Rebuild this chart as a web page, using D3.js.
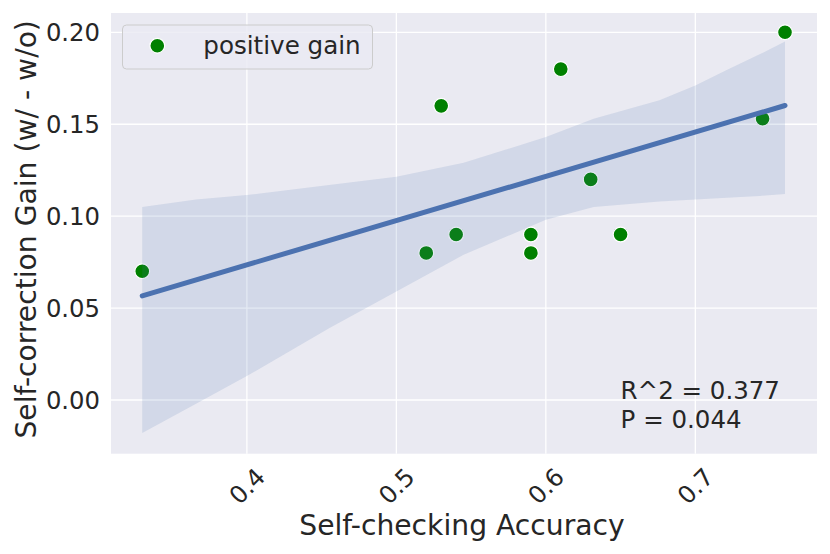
<!DOCTYPE html>
<html>
<head>
<meta charset="utf-8">
<script src="https://cdn.jsdelivr.net/npm/d3@7/dist/d3.min.js"></script>
<style>
  html, body { margin: 0; padding: 0; background: #ffffff; }
  text { font-family: "DejaVu Sans", sans-serif; fill: #262626; }
</style>
</head>
<body>
<svg id="chart" width="830" height="554"></svg>
<script>
// ---- data ----
const accuracy = [0.33, 0.52, 0.53, 0.54, 0.59, 0.59, 0.61, 0.63, 0.65, 0.745, 0.76];
const gain     = [0.07, 0.08, 0.16, 0.09, 0.09, 0.08, 0.18, 0.12, 0.09, 0.153, 0.20];
// bootstrap confidence band edges
const bandX     = [0.33, 0.366, 0.40, 0.455, 0.50, 0.545, 0.60, 0.632, 0.676, 0.70, 0.721, 0.743, 0.76];
const bandUpper = [0.105, 0.109, 0.1115, 0.117, 0.1215, 0.129, 0.143, 0.153, 0.163, 0.171, 0.1795, 0.188, 0.195];
const bandLower = [-0.018, -0.002, 0.013, 0.039, 0.059, 0.079, 0.098, 0.105, 0.108, 0.109, 0.110, 0.111, 0.112];
const xTicks = [0.4, 0.5, 0.6, 0.7];
const yTicks = [0.00, 0.05, 0.10, 0.15, 0.20];
const legendLabel = "positive gain";
const annotLines = ["R^2 = 0.377", "P = 0.044"];

// ---- layout ----
const svg = d3.select("#chart");
const L = 111, R = 817, T = 13, B = 453.7;
const x = d3.scaleLinear().domain([0.3091, 0.7814]).range([L, R]);
const y = d3.scaleLinear().domain([-0.0292, 0.2105]).range([B, T]);

// background
svg.append("rect").attr("x", L).attr("y", T).attr("width", R - L).attr("height", B - T).attr("fill", "#eaeaf2");

// grid
const g = svg.append("g");
g.selectAll(".gx").data(xTicks).join("line")
  .attr("x1", d => x(d)).attr("x2", d => x(d)).attr("y1", T).attr("y2", B)
  .attr("stroke", "#ffffff").attr("stroke-width", 1.3);
g.selectAll(".gy").data(yTicks).join("line")
  .attr("y1", d => y(d)).attr("y2", d => y(d)).attr("x1", L).attr("x2", R)
  .attr("stroke", "#ffffff").attr("stroke-width", 1.3);

// tick labels
svg.selectAll(".yt").data(yTicks).join("text")
  .attr("x", 100).attr("y", d => y(d)).attr("dy", "0.36em")
  .attr("text-anchor", "end").attr("font-size", 24.3)
  .text(d => d3.format(".2f")(d));
svg.selectAll(".xt").data(xTicks).join("text")
  .attr("transform", d => `translate(${x(d)},486) rotate(-45)`)
  .attr("dy", "0.36em").attr("text-anchor", "middle").attr("font-size", 24.3)
  .text(d => d3.format(".1f")(d));

// axis labels
svg.append("text").attr("x", (L + R) / 2 - 2).attr("y", 535)
  .attr("text-anchor", "middle").attr("font-size", 28.2).text("Self-checking Accuracy");
svg.append("text").attr("transform", `translate(36,${(T + B) / 2 - 4}) rotate(-90)`)
  .attr("text-anchor", "middle").attr("font-size", 28.2).text("Self-correction Gain (w/ - w/o)");

// points (drawn below regression)
const pts = accuracy.map((a, i) => ({ a, v: gain[i] }));
svg.selectAll(".pt").data(pts).join("circle")
  .attr("cx", d => x(d.a)).attr("cy", d => y(d.v)).attr("r", 7.4)
  .attr("fill", "#008000").attr("stroke", "#ffffff").attr("stroke-width", 1.2);

// confidence band
const band = bandX.map((bx, i) => ({ bx, lo: bandLower[i], hi: bandUpper[i] }));
svg.append("path").datum(band)
  .attr("d", d3.area().x(d => x(d.bx)).y0(d => y(d.lo)).y1(d => y(d.hi)))
  .attr("fill", "#4c72b0").attr("fill-opacity", 0.15);

// least-squares fit line computed from the data
const n = accuracy.length;
const mx = d3.mean(accuracy), my = d3.mean(gain);
let sxy = 0, sxx = 0;
for (let i = 0; i < n; i++) { sxy += (accuracy[i] - mx) * (gain[i] - my); sxx += (accuracy[i] - mx) ** 2; }
const slope = sxy / sxx, icpt = my - slope * mx;
const ext = d3.extent(accuracy);
svg.append("path").datum(ext)
  .attr("d", d3.line().x(d => x(d)).y(d => y(icpt + slope * d)))
  .attr("stroke", "#4c72b0").attr("stroke-width", 5).attr("stroke-linecap", "round").attr("fill", "none");

// legend
svg.append("rect").attr("x", 122.5).attr("y", 25).attr("width", 250).attr("height", 44)
  .attr("rx", 4).attr("fill", "#eaeaf2").attr("fill-opacity", 0.8)
  .attr("stroke", "#cccccc").attr("stroke-width", 1);
svg.append("circle").attr("cx", 157.3).attr("cy", 45.7).attr("r", 7.4)
  .attr("fill", "#008000").attr("stroke", "#ffffff").attr("stroke-width", 1.2);
svg.append("text").attr("x", 203.3).attr("y", 54).attr("font-size", 24.6).text(legendLabel);

// annotation
svg.selectAll(".ann").data(annotLines).join("text")
  .attr("x", x(0.65)).attr("y", (d, i) => y(-0.015) - (annotLines.length - 1 - i) * 28.5)
  .attr("font-size", 24.5).text(d => d);
</script>
</body>
</html>
